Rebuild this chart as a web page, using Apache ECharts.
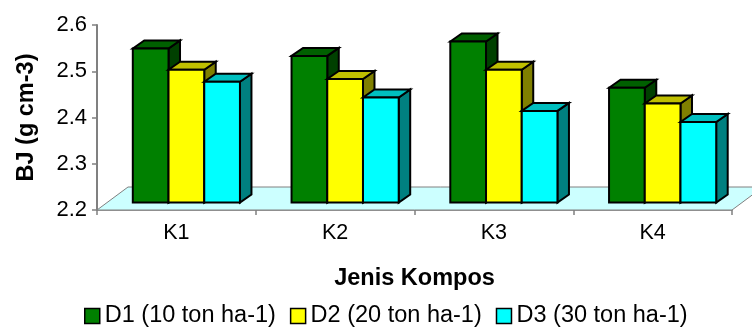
<!DOCTYPE html>
<html>
<head>
<meta charset="utf-8">
<script src="https://cdn.jsdelivr.net/npm/echarts@6/dist/echarts.min.js"></script>
<style>
  html, body { margin: 0; padding: 0; background: #fff; }
  #chart { width: 752px; height: 329px; }
</style>
</head>
<body>
<div id="chart"></div>
<script>
// Bulk density (BJ) by compost type and dose
const categories = ['K1', 'K2', 'K3', 'K4'];
const seriesNames = ['D1 (10 ton ha-1)', 'D2 (20 ton ha-1)', 'D3 (30 ton ha-1)'];
const d1Values = [2.533, 2.517, 2.548, 2.448];
const d2Values = [2.487, 2.467, 2.487, 2.414];
const d3Values = [2.461, 2.427, 2.398, 2.374];
const yTicks = [2.2, 2.3, 2.4, 2.5, 2.6];

// front / top / side shades for each series
const faceColors = [
  { front: '#008000', top: '#006000', side: '#004000' },
  { front: '#FFFF00', top: '#BFBF00', side: '#808000' },
  { front: '#00FFFF', top: '#00BFBF', side: '#008080' }
];

const FONT = 'Liberation Sans, Arial, sans-serif';
const Y_MIN = yTicks[0];
const Y_MAX = yTicks[yTicks.length - 1];

// 3D look: bars sit a little behind the front edge of the floor
const BAR_SHIFT_X = 10, BAR_SHIFT_Y = 7.5;   // front face offset from axis plane
const DEPTH_X = 11.5, DEPTH_Y = 8;           // bar depth
const FLOOR_X = 31, FLOOR_Y = 23;            // floor depth
const BAR_RATIO = 0.225;                     // bar width as share of a category band

function makeBarRenderer(idx) {
  const c = faceColors[idx];
  return function (params, api) {
    const cat = api.value(0);
    const val = api.value(1);
    const base = api.coord([cat, Y_MIN]);
    const top = api.coord([cat, val]);
    const band = api.size([1, 0])[0];
    const w = band * BAR_RATIO;
    const x = base[0] + BAR_SHIFT_X - 1.5 * w + idx * w;
    const yT = top[1] - BAR_SHIFT_Y;
    const yB = base[1] - BAR_SHIFT_Y;
    const stroke = { stroke: '#000', lineWidth: 2, lineJoin: 'miter' };
    return {
      type: 'group',
      children: [
        {
          type: 'polygon',
          shape: { points: [[x + w, yT], [x + w + DEPTH_X, yT - DEPTH_Y], [x + w + DEPTH_X, yB - DEPTH_Y], [x + w, yB]] },
          style: Object.assign({ fill: c.side }, stroke)
        },
        {
          type: 'polygon',
          shape: { points: [[x, yT], [x + DEPTH_X, yT - DEPTH_Y], [x + w + DEPTH_X, yT - DEPTH_Y], [x + w, yT]] },
          style: Object.assign({ fill: c.top }, stroke)
        },
        {
          type: 'rect',
          shape: { x: x, y: yT, width: w, height: yB - yT },
          style: Object.assign({ fill: c.front }, stroke)
        }
      ]
    };
  };
}

function renderFloor(params, api) {
  const cs = params.coordSys;
  const x0 = cs.x, x1 = cs.x + cs.width, yb = cs.y + cs.height;
  return {
    type: 'polygon',
    silent: true,
    shape: { points: [[x0, yb], [x0 + FLOOR_X, yb - FLOOR_Y], [x1 + FLOOR_X, yb - FLOOR_Y], [x1, yb]] },
    style: { fill: '#CCFFFF', stroke: '#808080', lineWidth: 1 }
  };
}

const allValues = [d1Values, d2Values, d3Values];

const chart = echarts.init(document.getElementById('chart'), null, { renderer: 'canvas' });
chart.setOption({
  animation: false,
  backgroundColor: '#ffffff',
  grid: { left: 97, right: 20, top: 25, bottom: 119, containLabel: false },
  legend: {
    data: seriesNames,
    left: 84,
    top: 304,
    padding: 0,
    icon: 'rect',
    itemWidth: 15,
    itemHeight: 15,
    itemGap: 14,
    itemStyle: { borderColor: '#000', borderWidth: 1.5 },
    textStyle: { fontFamily: FONT, fontSize: 23.5, color: '#000' }
  },
  xAxis: {
    type: 'category',
    data: categories,
    boundaryGap: true,
    name: 'Jenis Kompos',
    nameLocation: 'middle',
    nameGap: 57,
    nameTextStyle: { fontFamily: FONT, fontSize: 23.5, fontWeight: 'bold', color: '#000' },
    axisLine: { show: true, lineStyle: { color: '#808080', width: 1.5 } },
    axisTick: { show: true, length: 5, alignWithLabel: false, lineStyle: { color: '#808080', width: 1.5 } },
    axisLabel: { fontFamily: FONT, fontSize: 21.5, color: '#000', margin: 12 },
    splitLine: { show: false }
  },
  yAxis: {
    type: 'value',
    min: Y_MIN,
    max: Y_MAX,
    interval: 0.1,
    name: 'BJ (g cm-3)',
    nameLocation: 'middle',
    nameGap: 58,
    nameTextStyle: { fontFamily: FONT, fontSize: 23.5, fontWeight: 'bold', color: '#000' },
    axisLine: { show: true, lineStyle: { color: '#808080', width: 2 } },
    axisTick: { show: true, length: 5, lineStyle: { color: '#808080', width: 1.5 } },
    axisLabel: {
      fontFamily: FONT, fontSize: 22, color: '#000', margin: 10,
      formatter: function (v) { return v.toFixed(1); }
    },
    splitLine: { show: false }
  },
  series: [
    {
      type: 'custom',
      name: 'floor',
      silent: true,
      z: 1,
      renderItem: renderFloor,
      data: [[0, Y_MIN]]
    }
  ].concat(seriesNames.map(function (name, i) {
    return {
      type: 'custom',
      name: name,
      z: 2,
      itemStyle: { color: faceColors[i].front, borderColor: '#000', borderWidth: 1.5 },
      renderItem: makeBarRenderer(i),
      encode: { x: 0, y: 1 },
      data: allValues[i].map(function (v, k) { return [k, v]; })
    };
  }))
});
</script>
</body>
</html>
